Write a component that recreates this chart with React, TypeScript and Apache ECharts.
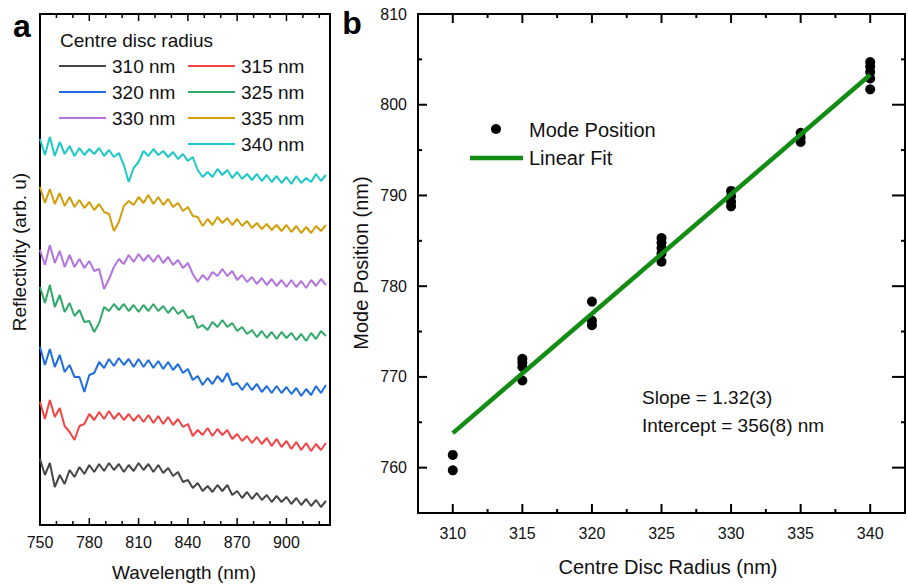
import React, { useEffect, useRef } from 'react';
import * as echarts from 'echarts';

// ---------- Panel a: reflectivity spectra (arb. units, offset traces) ----------
const wavelengths = [
  750, 753, 756, 759, 762, 765, 768, 771, 774, 777,
  780, 783, 786, 789, 792, 795, 798, 801, 804, 807,
  810, 813, 816, 819, 822, 825, 828, 831, 834, 837,
  840, 843, 846, 849, 852, 855, 858, 861, 864, 867,
  870, 873, 876, 879, 882, 885, 888, 891, 894, 897,
  900, 903, 906, 909, 912, 915, 918, 921, 924,
];

const r310 = [
  66, 50, 62, 38, 50, 41, 55, 48, 58, 51,
  60, 53, 61, 54, 62, 55, 61, 53, 60, 54,
  62, 55, 61, 53, 60, 52, 57, 49, 53, 43,
  45, 37, 42, 34, 39, 33, 40, 34, 40, 30,
  34, 27, 33, 26, 32, 25, 30, 23, 29, 23,
  28, 21, 27, 20, 26, 19, 25, 18, 24,
];
const r315 = [
  123, 106, 125, 108, 117, 99, 93, 85, 99, 101,
  111, 105, 113, 106, 114, 106, 112, 105, 111, 104,
  110, 103, 110, 102, 109, 101, 108, 100, 106, 98,
  101, 89, 95, 90, 97, 89, 96, 90, 95, 86,
  91, 84, 89, 82, 88, 81, 87, 79, 86, 78,
  84, 76, 83, 75, 82, 74, 81, 75, 82,
];
const r320 = [
  178, 160, 176, 158, 170, 153, 160, 148, 148, 133,
  150, 152, 163, 157, 166, 159, 167, 160, 166, 158,
  166, 158, 165, 157, 164, 156, 163, 155, 161, 152,
  156, 145, 149, 140, 147, 141, 149, 143, 152, 140,
  142, 135, 142, 135, 141, 133, 139, 132, 139, 132,
  138, 131, 137, 129, 136, 130, 139, 132, 140,
];
const r325 = [
  238, 222, 240, 218, 230, 213, 222, 209, 215, 203,
  204, 193, 202, 218, 214, 221, 215, 221, 214, 220,
  213, 220, 214, 221, 214, 219, 212, 218, 211, 215,
  207, 209, 197, 200, 195, 203, 198, 205, 198, 202,
  194, 198, 191, 195, 188, 194, 187, 193, 186, 193,
  187, 192, 185, 191, 184, 192, 186, 194, 189,
];
const r330 = [
  275, 260, 280, 262, 274, 258, 270, 258, 266, 257,
  264, 254, 256, 236, 246, 258, 266, 261, 270, 263,
  271, 264, 270, 263, 270, 262, 268, 260, 265, 257,
  262, 251, 243, 250, 245, 253, 249, 256, 249, 254,
  245, 250, 243, 248, 241, 247, 240, 246, 239, 245,
  238, 245, 238, 244, 237, 245, 239, 246, 240,
];
const r335 = [
  338, 322, 336, 321, 332, 319, 328, 318, 325, 317,
  323, 315, 321, 313, 311, 294, 303, 319, 324, 320,
  328, 322, 330, 321, 328, 320, 326, 318, 322, 314,
  318, 309, 308, 299, 306, 300, 308, 302, 307, 300,
  306, 299, 304, 297, 302, 296, 301, 295, 300, 294,
  300, 293, 299, 292, 298, 292, 299, 294, 300,
];
const r340 = [
  386, 370, 388, 369, 383, 371, 379, 369, 377, 370,
  376, 371, 377, 369, 375, 368, 372, 360, 343, 357,
  363, 374, 369, 376, 370, 374, 368, 373, 366, 371,
  364, 368, 355, 348, 353, 348, 356, 350, 355, 347,
  353, 346, 351, 345, 351, 344, 350, 343, 349, 342,
  348, 341, 349, 342, 347, 343, 351, 344, 350,
];

const traceNames = ['310 nm', '315 nm', '320 nm', '325 nm', '330 nm', '335 nm', '340 nm'];
const traceValues = [r310, r315, r320, r325, r330, r335, r340];
const traceColors = ['#474747', '#f24444', '#1f6ee0', '#31a96b', '#b374e0', '#d39e0a', '#1fc8c8'];

// tick positions (panel a every 10 nm, labelled every 30 nm)
const wavelengthTicks = [750, 760, 770, 780, 790, 800, 810, 820, 830, 840, 850, 860, 870, 880, 890, 900, 910, 920];

// ---------- Panel b: mode position vs centre disc radius ----------
const pointRadius = [
  310, 310,
  315, 315, 315, 315,
  320, 320, 320,
  325, 325, 325, 325, 325,
  330, 330, 330, 330,
  335, 335, 335,
  340, 340, 340, 340, 340,
];
const pointMode = [
  761.4, 759.7,
  772.0, 771.6, 771.1, 769.6,
  778.3, 776.2, 775.7,
  785.3, 784.8, 784.2, 783.6, 782.7,
  790.5, 789.9, 789.3, 788.8,
  796.9, 796.4, 795.9,
  804.7, 804.2, 803.6, 802.9, 801.7,
];
const fitRadius = [310, 340];
const fitMode = [763.8, 803.3];
const fitText = ['Slope = 1.32(3)', 'Intercept = 356(8) nm'];

const radiusTicks = [310, 312.5, 315, 317.5, 320, 322.5, 325, 327.5, 330, 332.5, 335, 337.5, 340];
const modeTicks = [760, 765, 770, 775, 780, 785, 790, 795, 800, 805, 810];

const FONT = '"Liberation Sans", Arial, Helvetica, sans-serif';
const FIT_GREEN = '#138c13';

export default function App() {
  const ref = useRef<HTMLDivElement>(null);

  useEffect(() => {
    document.body.style.margin = '0';
    const chart = echarts.init(ref.current!, null, { renderer: 'svg' });

    const frameLine = () => ({ show: true, onZero: false, lineStyle: { color: '#000', width: 2 } });
    const label = (margin: number, step: number) => ({
      show: true, margin, fontSize: 16, color: '#111', fontFamily: FONT,
      formatter: (v: number) => (Math.abs(v / step - Math.round(v / step)) < 1e-6 ? String(v) : ''),
    });
    const noTick = { show: false };

    const xA = { min: 750, max: 926.5, interval: 10 };
    const xB = { min: 307.5, max: 342.5, interval: 2.5 };
    const yB = { min: 755, max: 810, interval: 5 };

    const xAxis: any[] = [
      { type: 'value', gridIndex: 0, position: 'bottom', ...xA, axisLine: frameLine(), axisTick: noTick, splitLine: { show: false }, axisLabel: label(9, 30) },
      { type: 'value', gridIndex: 0, position: 'top', ...xA, axisLine: frameLine(), axisTick: noTick, splitLine: { show: false }, axisLabel: { show: false } },
      { type: 'value', gridIndex: 1, position: 'bottom', ...xB, axisLine: frameLine(), axisTick: noTick, splitLine: { show: false }, axisLabel: label(12, 5) },
      { type: 'value', gridIndex: 1, position: 'top', ...xB, axisLine: frameLine(), axisTick: noTick, splitLine: { show: false }, axisLabel: { show: false } },
    ];

    const yAxis: any[] = [
      { type: 'value', gridIndex: 0, position: 'left', min: 0, max: 511, axisLine: frameLine(), axisTick: noTick, axisLabel: { show: false }, splitLine: { show: false } },
      { type: 'value', gridIndex: 0, position: 'right', min: 0, max: 511, axisLine: frameLine(), axisTick: noTick, axisLabel: { show: false }, splitLine: { show: false } },
      { type: 'value', gridIndex: 1, position: 'left', ...yB, axisLine: frameLine(), axisTick: noTick, splitLine: { show: false }, axisLabel: label(11, 10) },
      { type: 'value', gridIndex: 1, position: 'right', ...yB, axisLine: frameLine(), axisTick: noTick, splitLine: { show: false }, axisLabel: { show: false } },
    ];

    const traceSeries = traceValues.map((vals, i) => ({
      type: 'line',
      name: traceNames[i],
      xAxisIndex: 0,
      yAxisIndex: 0,
      data: wavelengths.map((w, j) => [w, vals[j]]),
      showSymbol: false,
      symbol: 'none',
      lineStyle: { color: traceColors[i], width: 2 },
      z: 3,
    }));

    const legendSlots = [[0, 0], [1, 0], [0, 1], [1, 1], [0, 2], [1, 2], [1, 3]];
    const legendA: any[] = [
      {
        type: 'text', x: 60, y: 40,
        style: { text: 'Centre disc radius', fontSize: 19, fontFamily: FONT, fill: '#111', align: 'left', verticalAlign: 'middle' },
      },
    ];
    traceNames.forEach((name, i) => {
      const [c, r] = legendSlots[i];
      const lx = c === 0 ? 59 : 188;
      const ly = 66 + r * 26;
      legendA.push({
        type: 'line', shape: { x1: lx, y1: ly, x2: lx + 47, y2: ly },
        style: { stroke: traceColors[i], lineWidth: 2 },
      });
      legendA.push({
        type: 'text', x: lx + 53, y: ly,
        style: { text: name, fontSize: 19, fontFamily: FONT, fill: '#111', align: 'left', verticalAlign: 'middle' },
      });
    });

    const baseGraphic: any[] = [
      { type: 'text', x: 22, y: 26, style: { text: 'a', fontSize: 32, fontWeight: 'bold', fontFamily: FONT, fill: '#000', align: 'center', verticalAlign: 'middle' } },
      { type: 'text', x: 352, y: 23, style: { text: 'b', fontSize: 32, fontWeight: 'bold', fontFamily: FONT, fill: '#000', align: 'center', verticalAlign: 'middle' } },
      { type: 'text', x: 184, y: 572, style: { text: 'Wavelength (nm)', fontSize: 19, fontFamily: FONT, fill: '#111', align: 'center', verticalAlign: 'middle' } },
      { type: 'text', x: 19, y: 252, rotation: Math.PI / 2, style: { text: 'Reflectivity (arb. u)', fontSize: 19, fontFamily: FONT, fill: '#111', align: 'center', verticalAlign: 'middle' } },
      { type: 'text', x: 668, y: 567, style: { text: 'Centre Disc Radius (nm)', fontSize: 20, fontFamily: FONT, fill: '#111', align: 'center', verticalAlign: 'middle' } },
      { type: 'text', x: 361, y: 263, rotation: Math.PI / 2, style: { text: 'Mode Position (nm)', fontSize: 20, fontFamily: FONT, fill: '#111', align: 'center', verticalAlign: 'middle' } },
      ...legendA,
      { type: 'circle', shape: { cx: 496, cy: 129, r: 5 }, style: { fill: '#000' } },
      { type: 'text', x: 529, y: 130, style: { text: 'Mode Position', fontSize: 20, fontFamily: FONT, fill: '#111', align: 'left', verticalAlign: 'middle' } },
      { type: 'line', shape: { x1: 470, y1: 158, x2: 523, y2: 158 }, style: { stroke: FIT_GREEN, lineWidth: 4.5 } },
      { type: 'text', x: 529, y: 158, style: { text: 'Linear Fit', fontSize: 20, fontFamily: FONT, fill: '#111', align: 'left', verticalAlign: 'middle' } },
      { type: 'text', x: 642, y: 397, style: { text: fitText[0], fontSize: 19, fontFamily: FONT, fill: '#111', align: 'left', verticalAlign: 'middle' } },
      { type: 'text', x: 642, y: 425, style: { text: fitText[1], fontSize: 19, fontFamily: FONT, fill: '#111', align: 'left', verticalAlign: 'middle' } },
    ];

    const option: any = {
      animation: false,
      backgroundColor: '#ffffff',
      grid: [
        { left: 40, top: 14, width: 290, height: 511 },
        { left: 418, top: 14, width: 499, height: 499 },
      ],
      xAxis,
      yAxis,
      series: [
        ...traceSeries,
        {
          type: 'scatter',
          name: 'Mode Position',
          xAxisIndex: 2,
          yAxisIndex: 2,
          data: pointRadius.map((r, i) => [r, pointMode[i]]),
          symbol: 'circle',
          symbolSize: 10,
          itemStyle: { color: '#000', opacity: 1 },
          z: 3,
        },
        {
          type: 'line',
          name: 'Linear Fit',
          xAxisIndex: 2,
          yAxisIndex: 2,
          data: fitRadius.map((r, i) => [r, fitMode[i]]),
          symbol: 'none',
          lineStyle: { color: FIT_GREEN, width: 4.5, cap: 'butt' },
          z: 4,
        },
      ],
      graphic: baseGraphic,
    };

    chart.setOption(option);

    // Inward frame ticks, placed through the axes' own scales.
    const px = (dim: 'x' | 'y', idx: number, v: number): number => {
      const finder = dim === 'x' ? { xAxisIndex: idx } : { yAxisIndex: idx };
      return chart.convertToPixel(finder as any, v) as unknown as number;
    };
    const tickLines: any[] = [];
    const seg = (x1: number, y1: number, x2: number, y2: number, w: number) => {
      if ([x1, y1, x2, y2].some((n) => typeof n !== 'number' || !isFinite(n))) return;
      tickLines.push({
        type: 'line', silent: true, z: 5,
        shape: { x1, y1, x2, y2 },
        style: { stroke: '#000', lineWidth: w },
      });
    };

    // panel a
    const aBottom = px('y', 0, 0);
    const aTop = px('y', 0, 511);
    wavelengthTicks.forEach((w) => {
      const x = px('x', 0, w);
      const len = (w - 750) % 30 === 0 ? 7 : 4;
      seg(x, aBottom, x, aBottom - len, 1.5);
      seg(x, aTop, x, aTop + len, 1.5);
    });

    // panel b
    const bBottom = px('y', 2, 755);
    const bTop = px('y', 2, 810);
    const bLeft = px('x', 2, 307.5);
    const bRight = px('x', 2, 342.5);
    radiusTicks.forEach((r) => {
      const x = px('x', 2, r);
      const len = r % 5 === 0 ? 9 : 4;
      seg(x, bBottom, x, bBottom - len, 2);
      seg(x, bTop, x, bTop + len, 2);
    });
    modeTicks.forEach((m) => {
      const y = px('y', 2, m);
      const major = m % 10 === 0;
      seg(bLeft, y, bLeft + (major ? 9 : 4), y, 2);
      seg(bRight, y, bRight - (major ? 13 : 4), y, 2);
    });

    chart.setOption({ graphic: [...baseGraphic, ...tickLines] });

    return () => chart.dispose();
  }, []);

  return <div ref={ref} style={{ width: 908, height: 588 }} />;
}
